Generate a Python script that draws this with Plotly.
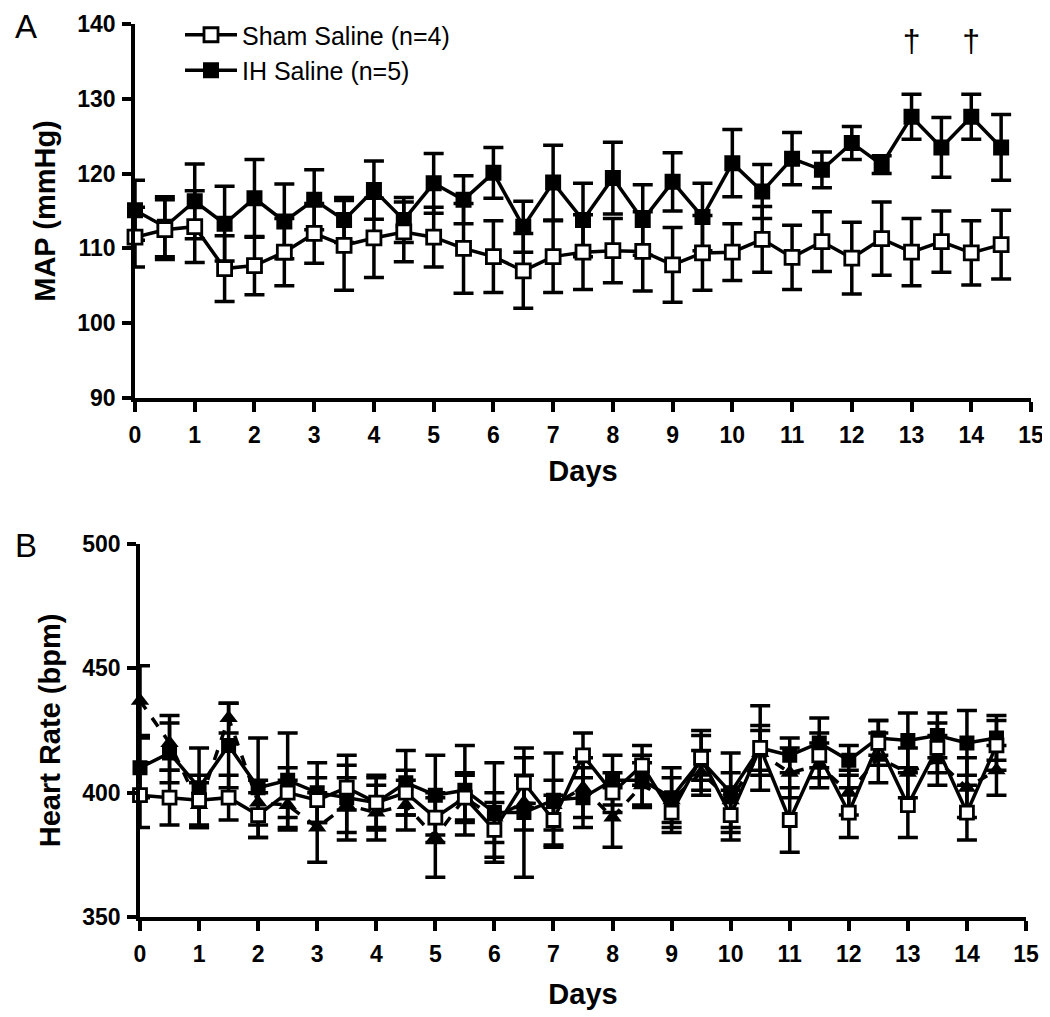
import plotly.graph_objects as go

days = [i * 0.5 for i in range(30)]

# Panel A: MAP (mmHg)
map_sham = [111.5, 112.5, 112.9, 107.3, 107.7, 109.5, 112.0, 110.4, 111.4, 112.2,
            111.5, 110.0, 108.9, 107.0, 108.9, 109.5, 109.7, 109.6, 107.8, 109.4,
            109.5, 111.2, 108.8, 110.9, 108.7, 111.3, 109.5, 110.9, 109.4, 110.5]
map_sham_err = [4.0, 4.0, 4.8, 4.4, 3.9, 4.5, 4.0, 6.0, 5.3, 4.0,
                4.0, 6.0, 4.8, 5.0, 4.8, 5.0, 4.3, 5.3, 5.0, 5.0,
                3.8, 4.4, 4.3, 4.0, 4.8, 4.9, 4.5, 4.1, 4.3, 4.6]
map_ih = [115.1, 112.9, 116.3, 113.3, 116.7, 113.6, 116.5, 113.8, 117.8, 113.8,
          118.7, 116.5, 120.1, 112.9, 118.8, 113.8, 119.4, 113.8, 118.9, 114.2,
          121.4, 117.6, 122.0, 120.5, 124.1, 121.2, 127.6, 123.5, 127.6, 123.5]
map_ih_err = [4.0, 4.0, 5.0, 5.0, 5.2, 5.0, 4.0, 3.0, 3.9, 3.0,
              4.0, 3.2, 3.4, 3.4, 5.0, 4.9, 4.8, 4.7, 3.9, 4.5,
              4.5, 3.6, 3.5, 2.4, 2.2, 1.2, 3.0, 4.0, 3.0, 4.4]
dagger_days = [13, 14]
dagger_y = [137.3, 137.3]

# Panel B: Heart rate (bpm)
hr_sham = [399, 398, 397, 398, 391, 400, 397, 402, 396, 400,
           390, 398, 385, 404, 389, 415, 400, 411, 392, 414,
           391, 418, 389, 415, 392, 420, 395, 418, 392, 419]
hr_sham_err = [13, 11, 10, 9, 9, 10, 9, 9, 10, 9,
               10, 9, 11, 10, 10, 9, 8, 8, 8, 9,
               10, 9, 13, 9, 10, 9, 13, 10, 11, 10]
hr_ih = [410, 416, 402, 419, 402, 405, 400, 398, 396, 404,
         399, 401, 392, 392, 397, 398, 405, 405, 398, 413,
         400, 418, 415, 420, 413, 422, 421, 423, 420, 422]
hr_ih_err = [12, 12, 16, 17, 20, 19, 12, 17, 11, 13,
             16, 18, 20, 26, 19, 12, 10, 10, 12, 12,
             16, 17, 7, 10, 6, 7, 11, 9, 13, 9]
hr_tri = [437, 420, 395, 430, 396, 395, 386, 395, 392, 395,
          382, 398, 390, 396, 395, 402, 390, 403, 397, 408,
          397, 416, 408, 411, 400, 414, 408, 413, 402, 409]
hr_tri_err = [14, 11, 9, 6, 9, 10, 14, 11, 11, 10,
              16, 10, 10, 11, 10, 12, 12, 9, 9, 9,
              11, 9, 10, 9, 9, 10, 10, 10, 12, 10]

FONT = "Liberation Sans, Arial, sans-serif"
W, H = 1050, 1017
OFF = 8  # page body margin
LW = 3.5

fig = go.Figure()

def err(vals, w=10):
    return dict(type="data", array=vals, visible=True, color="black",
                thickness=LW, width=w)

# Panel A traces
fig.add_trace(go.Scatter(
    x=days, y=map_ih, mode="lines+markers", name="IH Saline (n=5)",
    line=dict(color="black", width=LW),
    marker=dict(symbol="square", size=14, color="black",
                line=dict(color="black", width=2)),
    error_y=err(map_ih_err), cliponaxis=False, xaxis="x", yaxis="y",
    legendrank=2, legendgroup="ih"))
fig.add_trace(go.Scatter(
    x=days, y=map_sham, mode="lines+markers", name="Sham Saline (n=4)",
    line=dict(color="black", width=LW),
    marker=dict(symbol="square", size=14, color="white",
                line=dict(color="black", width=2.8)),
    error_y=err(map_sham_err), cliponaxis=False, xaxis="x", yaxis="y",
    legendrank=1, legendgroup="sham"))

# Panel B traces
fig.add_trace(go.Scatter(
    x=days, y=hr_tri, mode="lines+markers", showlegend=False,
    line=dict(color="black", width=LW, dash="dash"),
    marker=dict(symbol="triangle-up", size=16, color="black"),
    error_y=err(hr_tri_err), cliponaxis=False, xaxis="x2", yaxis="y2"))
fig.add_trace(go.Scatter(
    x=days, y=hr_ih, mode="lines+markers", showlegend=False,
    line=dict(color="black", width=LW),
    marker=dict(symbol="square", size=13, color="black",
                line=dict(color="black", width=2)),
    error_y=err(hr_ih_err), cliponaxis=False, xaxis="x2", yaxis="y2"))
fig.add_trace(go.Scatter(
    x=days, y=hr_sham, mode="lines+markers", showlegend=False,
    line=dict(color="black", width=LW),
    marker=dict(symbol="square", size=13, color="white",
                line=dict(color="black", width=2.8)),
    error_y=err(hr_sham_err), cliponaxis=False, xaxis="x2", yaxis="y2"))

# Daggers
fig.add_trace(go.Scatter(
    x=dagger_days, y=dagger_y, mode="text", text=["†", "†"],
    textfont=dict(family=FONT, size=32, color="black"),
    showlegend=False, cliponaxis=False, xaxis="x", yaxis="y"))

tickfont = dict(family=FONT, size=23, color="black", weight="bold")
titlefont = dict(family=FONT, size=29, color="black", weight="bold")

def xax(l, r, anchor, standoff):
    return dict(domain=[(l - OFF) / W, (r - OFF) / W], anchor=anchor, range=[0, 15],
                tickmode="array", tickvals=list(range(16)), ticks="outside",
                ticklen=10, tickwidth=LW, tickcolor="black", showline=True,
                linecolor="black", linewidth=LW, showgrid=False, zeroline=False,
                tickfont=tickfont, ticklabelstandoff=4, automargin=False,
                title=dict(text="Days", font=titlefont, standoff=standoff))

def yax(top, bottom, anchor, rng, dtick, title):
    return dict(domain=[(H - bottom + OFF) / H, (H - top + OFF) / H], anchor=anchor,
                range=rng, dtick=dtick, tick0=rng[0],
                ticks="outside", ticklen=9, tickwidth=LW, tickcolor="black",
                showline=True, linecolor="black", linewidth=LW, showgrid=False,
                zeroline=False, tickfont=tickfont, ticklabelstandoff=2,
                automargin=False,
                title=dict(text=title, font=titlefont, standoff=14))

fig.update_layout(
    width=W, height=H,
    margin=dict(l=0, r=0, t=0, b=0, autoexpand=False),
    paper_bgcolor="white", plot_bgcolor="white",
    xaxis=xax(135, 1031, "y", 14),
    yaxis=yax(24, 398, "x", [90, 140], 10, "MAP (mmHg)"),
    xaxis2=xax(140, 1026, "y2", 18),
    yaxis2=yax(544, 917, "x2", [350, 500], 50, "Heart Rate (bpm)"),
    legend=dict(x=(180 - OFF) / W, y=1 - (12 - OFF) / H, xanchor="left", yanchor="top",
                font=dict(family=FONT, size=25, color="black"),
                bgcolor="rgba(0,0,0,0)", traceorder="normal", itemwidth=52,
                tracegroupgap=15),
    showlegend=True,
    annotations=[
        dict(text="A", x=(13 - OFF) / W, y=1 - (6 - OFF) / H, xref="paper", yref="paper",
             xanchor="left", yanchor="top", showarrow=False,
             font=dict(family=FONT, size=33, color="black")),
        dict(text="B", x=(13 - OFF) / W, y=1 - (525 - OFF) / H, xref="paper", yref="paper",
             xanchor="left", yanchor="top", showarrow=False,
             font=dict(family=FONT, size=33, color="black")),
    ],
)

fig.write_html("out.html")
